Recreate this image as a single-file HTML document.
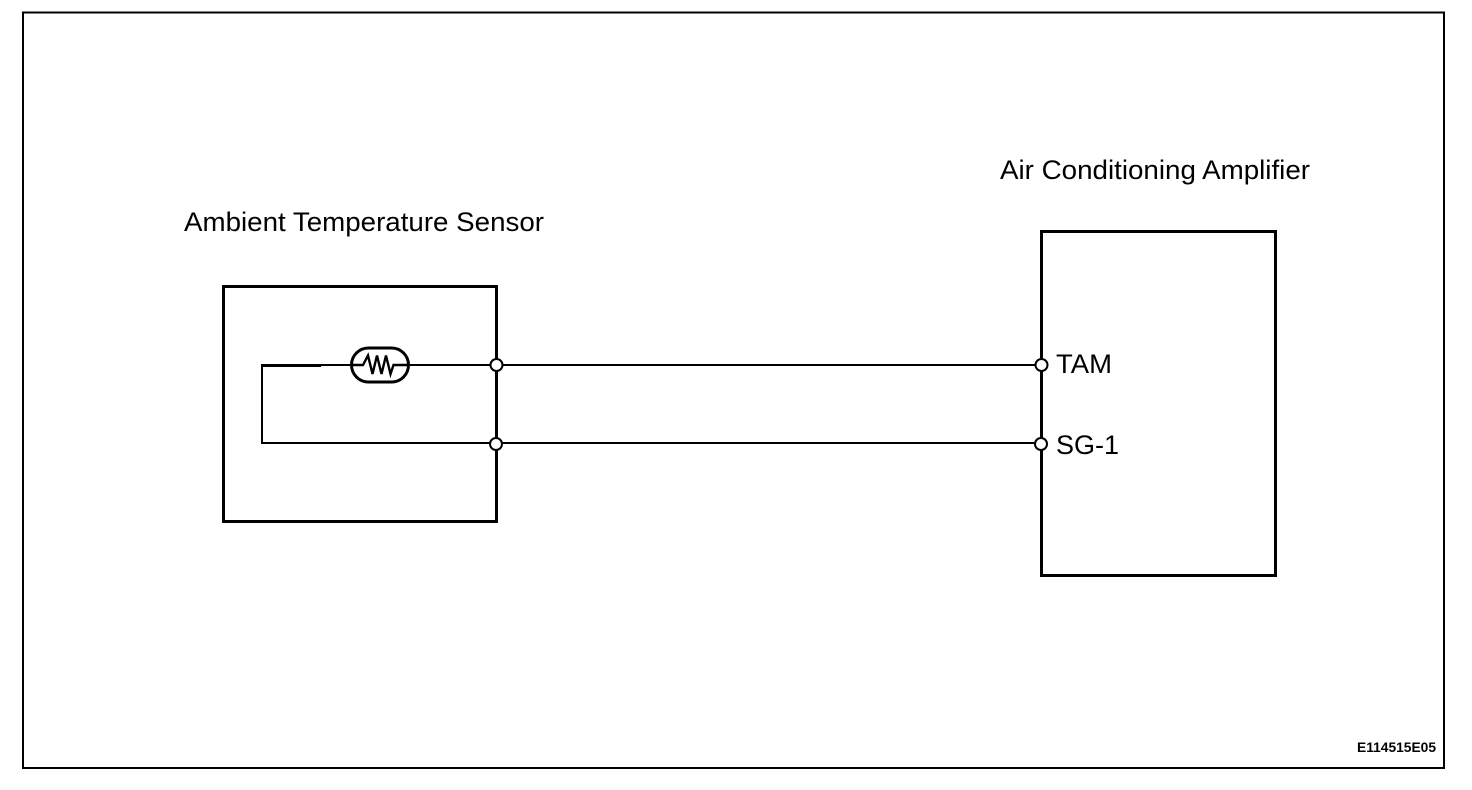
<!DOCTYPE html>
<html>
<head>
<meta charset="utf-8">
<style>
html,body{margin:0;padding:0;background:#fff;width:1472px;height:790px;overflow:hidden}
svg{display:block}
text{font-family:"Liberation Sans",sans-serif;fill:#000}
</style>
</head>
<body>
<svg width="1472" height="790" viewBox="0 0 1472 790" xmlns="http://www.w3.org/2000/svg">
<rect width="1472" height="790" fill="#fff"/>
<g fill="none" stroke="#000" shape-rendering="crispEdges">
<rect x="23" y="12.5" width="1421" height="755.5" stroke-width="2"/>
<rect x="223.5" y="286.5" width="273" height="235" stroke-width="3"/>
<rect x="1041.5" y="231.5" width="234" height="344" stroke-width="3"/>
<path d="M262 365H350M410 365H1036M262 365V444M261 443H1036" stroke-width="2"/>
<path d="M261 365.500H321" stroke-width="3"/>
</g>
<rect x="351.500" y="348" width="57" height="34" rx="17" ry="17" fill="#fff" stroke="#000" stroke-width="3"/>
<path d="M351 365H363L368 355.500L372.500 374L377 355.500L381.500 374L386 355.500L390.500 374L393.500 365H409" fill="none" stroke="#000" stroke-width="2.400"/>
<g fill="#fff" stroke="#000" stroke-width="2">
<circle cx="496.500" cy="365" r="6"/>
<circle cx="496" cy="444" r="6"/>
<circle cx="1041.500" cy="365" r="6"/>
<circle cx="1041" cy="444" r="6"/>
</g>
<text x="184" y="231" font-size="27" textLength="360" lengthAdjust="spacingAndGlyphs">Ambient Temperature Sensor</text>
<text x="1000" y="179" font-size="27" textLength="310" lengthAdjust="spacingAndGlyphs">Air Conditioning Amplifier</text>
<text x="1056" y="373" font-size="27" textLength="56" lengthAdjust="spacingAndGlyphs">TAM</text>
<text x="1056" y="454" font-size="27" textLength="63" lengthAdjust="spacingAndGlyphs">SG-1</text>
<text x="1357" y="752" font-size="14" font-weight="bold" textLength="79" lengthAdjust="spacingAndGlyphs">E114515E05</text>
</svg>
</body>
</html>
